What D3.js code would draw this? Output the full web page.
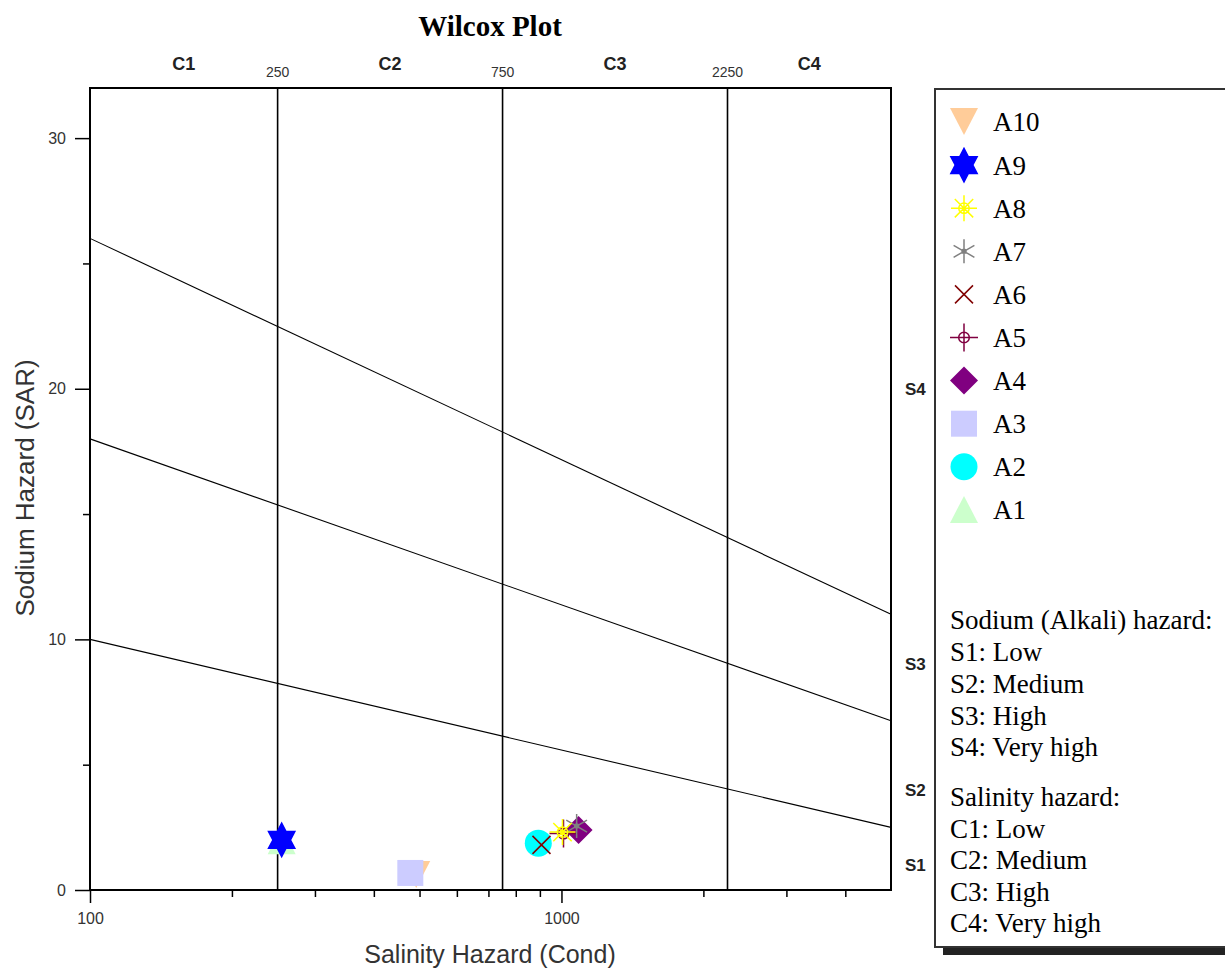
<!DOCTYPE html>
<html>
<head>
<meta charset="utf-8">
<script src="https://cdn.jsdelivr.net/npm/d3@7"></script>
<style>
  body { margin: 0; background: #fff; }
  svg { display: block; }
  .tick text { fill: #333; }
</style>
</head>
<body>
<svg id="chart" width="1225" height="973"></svg>
<script>
// samples, conductivity and SAR
const samples = ['A1', 'A2', 'A3', 'A4', 'A5', 'A6', 'A7', 'A8', 'A9', 'A10'];
const cond = [255, 893, 478, 1087, 1010, 907, 1077, 1005, 255, 492];
const sar = [1.95, 1.87, 0.68, 2.39, 2.25, 1.8, 2.55, 2.31, 2.0, 0.6];
const colors = ['#ccffcc', '#00ffff', '#ccccff', '#800080', '#800040', '#800000', '#808080', '#ffff00', '#0000ff', '#ffcc99'];
const drawOrder = ['A1', 'A10', 'A3', 'A2', 'A4', 'A5', 'A7', 'A8', 'A6', 'A9'];

// class boundaries
const salinityBreaks = [250, 750, 2250];
const salinityClasses = ['C1', 'C2', 'C3', 'C4'];
const sodiumClasses = ['S1', 'S2', 'S3', 'S4'];
const sodiumLabelAt = [1, 4, 9, 20];
const lineLeftSAR = [10, 18, 26];
const lineRightSAR = [2.5, 6.75, 11];

const condTicks = [100, 1000];
const condMinor = [200, 300, 400, 500, 600, 700, 800, 900, 2000, 3000, 4000];
const sarTicks = [0, 10, 20, 30];
const sarMinor = [5, 15, 25];

const sodiumNotes = ['Sodium (Alkali) hazard:', 'S1: Low', 'S2: Medium', 'S3: High', 'S4: Very high'];
const salinityNotes = ['Salinity hazard:', 'C1: Low', 'C2: Medium', 'C3: High', 'C4: Very high'];

const svg = d3.select('#chart');
const margin = { top: 88, right: 334, bottom: 83, left: 90 };
const width = +svg.attr('width');
const height = +svg.attr('height');

const x = d3.scaleLog()
    .domain([100, 5000])
    .range([margin.left, width - margin.right]);

const y = d3.scaleLinear()
    .domain([0, 32])
    .range([height - margin.bottom, margin.top]);

const narrow = "'Liberation Sans Narrow', 'Arial Narrow', 'Liberation Sans', Arial, sans-serif";
const sans = "'Liberation Sans', Arial, sans-serif";
const serif = "'Liberation Serif', 'Times New Roman', serif";

// custom marker shapes for d3.symbol (size = radius^2)
const rad = s => Math.sqrt(s);
const shapes = {
    triUp: { draw(c, s) { const r = rad(s); c.moveTo(-r, r - 1); c.lineTo(r, r - 1); c.lineTo(0, -r); c.closePath(); } },
    triDown: { draw(c, s) { const r = rad(s); c.moveTo(-r, -r); c.lineTo(r, -r); c.lineTo(0, r - 1); c.closePath(); } },
    square: { draw(c, s) { const r = rad(s); c.rect(-r, -r, 2 * r, 2 * r); } },
    circle: { draw(c, s) { const r = rad(s); c.moveTo(r, 0); c.arc(0, 0, r, 0, 2 * Math.PI); } },
    diamond: { draw(c, s) { const r = rad(s); c.moveTo(0, -r); c.lineTo(r, 0); c.lineTo(0, r); c.lineTo(-r, 0); c.closePath(); } },
    star6: { draw(c, s) {
        const r = rad(s);
        for (let i = 0; i < 12; i++) {
            const a = -Math.PI / 2 + i * Math.PI / 6;
            const rr = i % 2 ? r / Math.sqrt(3) : r;
            // slightly taller than wide, like the original
            if (i === 0) c.moveTo(rr * Math.cos(a) * 0.95, rr * Math.sin(a) * 1.05);
            else c.lineTo(rr * Math.cos(a) * 0.95, rr * Math.sin(a) * 1.05);
        }
        c.closePath();
    } },
    xmark: { draw(c, s) { const r = rad(s); c.moveTo(-r, -r); c.lineTo(r, r); c.moveTo(r, -r); c.lineTo(-r, r); } },
    crosshair: { draw(c, s) {
        const r = rad(s);
        c.moveTo(-r, 0); c.lineTo(r, 0); c.moveTo(0, -r); c.lineTo(0, r);
        c.moveTo(r * 0.38, 0); c.arc(0, 0, r * 0.38, 0, 2 * Math.PI);
    } },
    asterisk: { draw(c, s) {
        const r = rad(s);
        for (let i = 0; i < 6; i++) {
            const a = Math.PI / 2 + i * Math.PI / 3;
            c.moveTo(0, 0); c.lineTo(r * Math.cos(a), r * Math.sin(a));
        }
        c.moveTo(2, 0); c.arc(0, 0, 2, 0, 2 * Math.PI);
    } },
    burst: { draw(c, s) {
        const r = rad(s);
        for (let i = 0; i < 8; i++) {
            const a = i * Math.PI / 4;
            c.moveTo(0, 0); c.lineTo(r * Math.cos(a), r * Math.sin(a));
        }
        c.moveTo(r * 0.4, 0); c.arc(0, 0, r * 0.4, 0, 2 * Math.PI);
    } }
};

const markerType = ['triUp', 'circle', 'square', 'diamond', 'crosshair', 'xmark', 'asterisk', 'burst', 'star6', 'triDown'];
const markerSize = [14, 13.5, 13, 14, 14, 9, 12, 13, 17.5, 14];
const lineMarker = { crosshair: true, xmark: true, asterisk: true, burst: true };

function styleMarker(sel, i) {
    const t = markerType[i];
    const path = d3.symbol().type(shapes[t]).size(markerSize[i] * markerSize[i]);
    sel.attr('d', path())
        .attr('fill', lineMarker[t] ? 'none' : colors[i])
        .attr('stroke', lineMarker[t] ? colors[i] : 'none')
        .attr('stroke-width', lineMarker[t] ? 1.5 : 0);
}

// title
svg.append('text')
    .attr('x', 490)
    .attr('y', 36)
    .attr('text-anchor', 'middle')
    .style('font-family', serif)
    .style('font-weight', 'bold')
    .style('font-size', '29px')
    .text('Wilcox Plot');

// frame
svg.append('rect')
    .attr('x', x.range()[0])
    .attr('y', y.range()[1])
    .attr('width', x.range()[1] - x.range()[0])
    .attr('height', y.range()[0] - y.range()[1])
    .attr('fill', 'none')
    .attr('stroke', '#000')
    .attr('stroke-width', 2);

// salinity class boundaries
svg.selectAll('.vline')
    .data(salinityBreaks)
    .enter().append('line')
    .attr('class', 'vline')
    .attr('x1', d => x(d))
    .attr('x2', d => x(d))
    .attr('y1', y.range()[1])
    .attr('y2', y.range()[0])
    .attr('stroke', '#000')
    .attr('stroke-width', 1.6);

// sodium hazard lines
svg.selectAll('.sline')
    .data(lineLeftSAR)
    .enter().append('line')
    .attr('class', 'sline')
    .attr('x1', x(100))
    .attr('y1', d => y(d))
    .attr('x2', x(5000))
    .attr('y2', (d, i) => y(lineRightSAR[i]))
    .attr('stroke', '#000')
    .attr('stroke-width', 1.1);

// top labels
svg.selectAll('.breakLabel')
    .data(salinityBreaks)
    .enter().append('text')
    .attr('class', 'breakLabel')
    .attr('x', d => x(d))
    .attr('y', 77)
    .attr('text-anchor', 'middle')
    .style('font-family', narrow)
    .style('font-size', '14px')
    .style('fill', '#333')
    .text(d => d);

const bounds = [100].concat(salinityBreaks, [5000]);
svg.selectAll('.classLabel')
    .data(salinityClasses)
    .enter().append('text')
    .attr('class', 'classLabel')
    .attr('x', (d, i) => x(Math.sqrt(bounds[i] * bounds[i + 1])))
    .attr('y', 70)
    .attr('text-anchor', 'middle')
    .style('font-family', narrow)
    .style('font-weight', 'bold')
    .style('font-size', '18px')
    .style('fill', '#222')
    .text(d => d);

// right labels
svg.selectAll('.sLabel')
    .data(sodiumClasses)
    .enter().append('text')
    .attr('class', 'sLabel')
    .attr('x', 905)
    .attr('y', (d, i) => y(sodiumLabelAt[i]))
    .attr('dy', '0.35em')
    .style('font-family', narrow)
    .style('font-weight', 'bold')
    .style('font-size', '17px')
    .style('fill', '#222')
    .text(d => d);

// x axis
svg.append('g')
    .attr('transform', `translate(0, ${y.range()[0]})`)
    .call(d3.axisBottom(x).tickValues(condMinor).tickSize(7).tickSizeOuter(0).tickFormat(''))
    .call(g => g.select('.domain').remove());

svg.append('g')
    .attr('transform', `translate(0, ${y.range()[0]})`)
    .call(d3.axisBottom(x).tickValues(condTicks).tickSize(13).tickSizeOuter(0).tickFormat(d3.format('d')))
    .call(g => g.select('.domain').remove())
    .call(g => g.selectAll('text').attr('dy', '1.1em').style('font-family', narrow).style('font-size', '16px'));

// y axis
svg.append('g')
    .attr('transform', `translate(${x.range()[0]}, 0)`)
    .call(d3.axisLeft(y).tickValues(sarMinor).tickSize(7).tickSizeOuter(0).tickFormat(''))
    .call(g => g.select('.domain').remove());

svg.append('g')
    .attr('transform', `translate(${x.range()[0]}, 0)`)
    .call(d3.axisLeft(y).tickValues(sarTicks).tickSize(15).tickSizeOuter(0).tickPadding(9))
    .call(g => g.select('.domain').remove())
    .call(g => g.selectAll('text').style('font-family', narrow).style('font-size', '16px'));

svg.selectAll('.tick line').attr('stroke', '#000').attr('stroke-width', 1.5);

// axis titles
svg.append('text')
    .attr('x', 490)
    .attr('y', 963)
    .attr('text-anchor', 'middle')
    .style('font-family', sans)
    .style('font-size', '25px')
    .style('fill', '#333')
    .text('Salinity Hazard (Cond)');

svg.append('text')
    .attr('transform', 'translate(34, 488) rotate(-90)')
    .attr('text-anchor', 'middle')
    .style('font-family', sans)
    .style('font-size', '26px')
    .style('fill', '#333')
    .text('Sodium Hazard (SAR)');

// points
drawOrder.forEach(name => {
    const i = samples.indexOf(name);
    svg.append('path')
        .attr('class', 'point')
        .attr('transform', `translate(${x(cond[i])}, ${y(sar[i])})`)
        .call(styleMarker, i);
});

// legend
const legend = svg.append('g');
legend.append('rect')
    .attr('x', 943).attr('y', 96)
    .attr('width', 300).attr('height', 859)
    .attr('fill', '#222');
legend.append('rect')
    .attr('x', 935).attr('y', 89)
    .attr('width', 300).attr('height', 858)
    .attr('fill', '#fff')
    .attr('stroke', '#333')
    .attr('stroke-width', 2);

const legendOrder = samples.slice().reverse();
legendOrder.forEach((name, k) => {
    const i = samples.indexOf(name);
    const ly = 122 + k * 43.1;
    legend.append('path')
        .attr('transform', `translate(964, ${ly})`)
        .call(styleMarker, i);
    legend.append('text')
        .attr('x', 993)
        .attr('y', ly)
        .attr('dy', '0.35em')
        .style('font-family', serif)
        .style('font-size', '27px')
        .text(name);
});

const notes = legend.append('g')
    .style('font-family', serif)
    .style('font-size', '27px');
notes.selectAll('.sn')
    .data(sodiumNotes)
    .enter().append('text')
    .attr('x', 950)
    .attr('y', (d, i) => 620 + i * 31.7)
    .attr('dy', '0.35em')
    .text(d => d);
notes.selectAll('.cn')
    .data(salinityNotes)
    .enter().append('text')
    .attr('x', 950)
    .attr('y', (d, i) => 797 + i * 31.5)
    .attr('dy', '0.35em')
    .text(d => d);
</script>
</body>
</html>
